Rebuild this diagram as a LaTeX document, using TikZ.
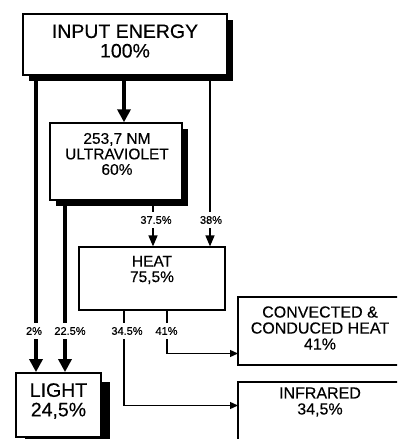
\documentclass[tikz,border=0pt]{standalone}
\usepackage{fontspec}
\setmainfont{Liberation Sans}
\newfontfamily\lblfont[FakeBold=0.6]{Liberation Sans}
\newfontfamily\boxfont[FakeBold=0.3]{Liberation Sans}
\usetikzlibrary{arrows.meta,shadows}
\begin{document}
\begin{tikzpicture}[x=1pt,y=-1pt,
  box/.style={draw=black,fill=white,rectangle,inner sep=0pt,line width=1.4pt},
  shad/.style={drop shadow={shadow xshift=#1,shadow yshift=-#1,fill=black,opacity=1}},
  txt/.style={align=center,inner sep=0pt,font=\boxfont\fontsize{#1}{#1}\selectfont},
  lbl/.style={fill=white,inner xsep=0.5pt,inner ysep=4pt,font=\lblfont\fontsize{11}{12}\selectfont},
  thk/.style={line width=3.6pt,-{Triangle[width=13pt,length=13pt]}},
  thn/.style={line width=1.4pt,-{Triangle[width=9pt,length=11pt]}},
  thns/.style={line width=1.3pt,-{Triangle[width=7pt,length=8pt]}}
]
\useasboundingbox (0,0) rectangle (397,439);
\clip (0,0) rectangle (397,439);
\fill[white] (0,0) rectangle (397,439);

% x positions of connectors
\coordinate (xA) at (36,0);
\coordinate (xB) at (65,0);
\coordinate (xC) at (124,0);
\coordinate (xD) at (153,0);
\coordinate (xE) at (167,0);
\coordinate (xF) at (210,0);

% boxes
\node[box,shad=6pt,line width=1.8pt,minimum width=204pt,minimum height=61pt] (inbox) at (125,44.5) {};
\node[box,shad=6pt,line width=1.4pt,minimum width=132pt,minimum height=77pt] (uv) at (116,161.5) {};
\node[box,line width=1.2pt,minimum width=146pt,minimum height=63pt] (heat) at (152,278.5) {};
\node[box,line width=1.4pt,minimum width=166pt,minimum height=68pt] (conv) at (321,331) {};
\node[box,line width=1.4pt,minimum width=166pt,minimum height=63pt] (ir) at (321,413.5) {};

% texts
\node[txt=19.5] (intxt) at (125,41) {\baselineskip=25pt INPUT ENERGY\\100\%};
\node[txt=15.5] (uvtxt) at (117,154) {\baselineskip=19pt 253,7 NM\\ULTRAVIOLET\\60\%};
\node[txt=15.5] (heattxt) at (152,270) {\baselineskip=20pt HEAT\\75,5\%};
\node[txt=16] (convtxt) at (320,328) {\baselineskip=20.5pt CONVECTED \&\\CONDUCED HEAT\\41\%};
\node[txt=16] (irtxt) at (320,402) {\baselineskip=19.5pt INFRARED\\34,5\%};

% connectors
\draw[thk] (inbox.south -| xC) -- (uv.north -| xC);
\draw[thn] (uv.south -| xD) -- (heat.north -| xD);
\draw[thn] (inbox.south -| xF) -- (heat.north -| xF);
\coordinate (c41) at (238,353.5);
\coordinate (c345) at (238,405.5);
\draw[thns] (heat.south -| xE) |- (c41);
\draw[thns] (heat.south -| xC) |- (c345);

% light box (drawn after so its arrows end on it)
\node[box,shad=9pt,line width=1.8pt,minimum width=85pt,minimum height=64pt] (light) at (58.5,405) {};
\node[txt=19.5] (lighttxt) at (58.5,401) {\baselineskip=23pt LIGHT\\24,5\%};
\draw[thk] (inbox.south -| xA) -- (light.north -| xA);
\draw[thk] (uv.south -| xB) -- (light.north -| xB);

% labels on connectors
\node[lbl] (l2) at (34,331) {2\%};
\node[lbl] (l225) at (70,331) {22.5\%};
\node[lbl] (l375) at (156,220) {37.5\%};
\node[lbl] (l38) at (211,220) {38\%};
\node[lbl] (l345) at (127,331) {34.5\%};
\node[lbl] (l41) at (166.5,331) {41\%};
\end{tikzpicture}
\end{document}
